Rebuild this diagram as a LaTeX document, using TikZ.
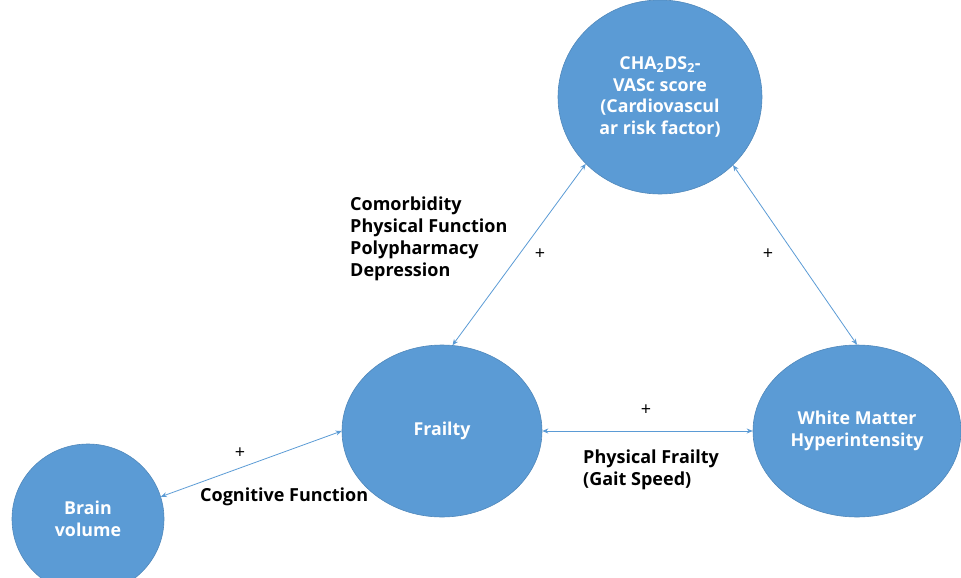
\documentclass[tikz,border=0pt]{standalone}
\usepackage{fontspec}
\setmainfont{Open Sans}
\usetikzlibrary{shapes.geometric,arrows.meta}
\definecolor{nodeblue}{HTML}{5B9BD5}
\begin{document}
\begin{tikzpicture}[x=1pt,y=-1pt,
  bubble/.style={ellipse, fill=nodeblue, draw=nodeblue!88!black, line width=0.6pt,
    inner sep=0pt, text=white, align=center,
    font=\fontsize{17.8}{21.5}\selectfont\bfseries},
  link/.style={draw=nodeblue, line width=0.8pt,
    {Stealth[length=6pt,width=5pt]}-{Stealth[length=6pt,width=5pt]}},
  note/.style={inner sep=0pt, anchor=west, align=left,
    font=\fontsize{18}{22}\selectfont\bfseries},
  sign/.style={inner sep=0pt, font=\fontsize{18}{18}\selectfont}]
\useasboundingbox (0,0) rectangle (961,578);

% the four factors
\node[bubble, minimum width=204pt, minimum height=194pt] (cha) at (660,97)
  {CHA\textsubscript{2}DS\textsubscript{2}-\\VASc score\\(Cardiovascul\\ar risk factor)};
\node[bubble, minimum width=200pt, minimum height=172pt] (frailty) at (442,431) {Frailty};
\node[bubble, minimum width=208pt, minimum height=172pt] (wmh) at (857,431)
  {White Matter\\Hyperintensity};
\node[bubble, minimum width=152pt, minimum height=150pt] (brain) at (88,519)
  {Brain\\volume};

% two-way associations
\draw[link] (frailty.83) -- (cha.222);
\draw[link] (cha.317) -- (wmh.north);
\draw[link] (frailty.east) -- (wmh.west);
\draw[link] (brain.17) -- (frailty.west);

% signs of the associations
\node[sign] (s1) at (540,254) {+};
\node[sign] (s2) at (768,254) {+};
\node[sign] (s3) at (646,410) {+};
\node[sign] (s4) at (240,453) {+};

% mediating domains
\node[note] (dom) at (350,239) {Comorbidity\\Physical Function\\Polypharmacy\\Depression};
\node[note] (gait) at (583,470) {Physical Frailty\\(Gait Speed)};
\node[note] (cog) at (200,497) {Cognitive Function};
\end{tikzpicture}
\end{document}
